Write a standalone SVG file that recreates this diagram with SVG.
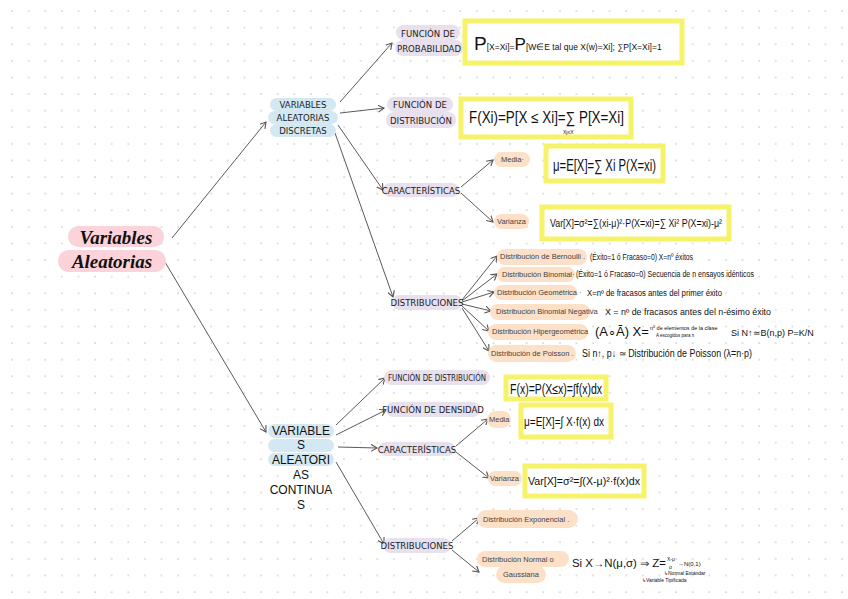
<svg xmlns="http://www.w3.org/2000/svg" width="848" height="599" viewBox="0 0 848 599">
<defs>
<pattern id="dots" x="11" y="10" width="16.6" height="16.6" patternUnits="userSpaceOnUse">
<rect x="0.4" y="0.4" width="1.4" height="1.4" fill="#c4c4c4"/>
</pattern>
<marker id="ah" markerWidth="8" markerHeight="8" refX="6" refY="4" orient="auto" markerUnits="userSpaceOnUse">
<path d="M0,0.5 L6,4 L0,7.5" fill="none" stroke="#555" stroke-width="1.1"/>
</marker>
</defs>
<style>
.conn path{fill:none;stroke:#5a5a5a;stroke-width:1;marker-end:url(#ah)}
.pink{fill:#fcd3da}
.blue{fill:#d3e8f2}
.purp{fill:#e9e0ee}
.orng{fill:#fde0c8}
.ybox{fill:#fff;stroke:#f6f36a;stroke-width:5}
.root{font-family:"Liberation Serif",serif;font-weight:bold;font-style:italic;font-size:19px;fill:#111;text-anchor:middle}
.cap{font-family:"DejaVu Sans Condensed","DejaVu Sans",sans-serif;font-size:9.5px;fill:#222;text-anchor:middle}
.cont{font-family:"Liberation Sans",Arial,sans-serif;font-size:12px;fill:#111;text-anchor:middle}
.small{font-family:"Liberation Sans",Arial,sans-serif;font-size:7.5px;fill:#444}
.fm{font-family:"Liberation Sans",Arial,sans-serif;fill:#111}
</style>
<rect width="848" height="599" fill="#fff"/>
<rect width="848" height="599" fill="url(#dots)"/>

<g class="conn" id="connectors">
<path d="M172,238 L266,122"/>
<path d="M165,262 L266,432"/>
<path d="M340,102 L392,43"/>
<path d="M340,113 L384,108"/>
<path d="M338,125 L383,190"/>
<path d="M335,133 L393,297"/>
<path d="M461,187 L493,160"/>
<path d="M461,193 L493,222"/>
<path d="M462,300 L497,256"/>
<path d="M462,301 L497,274"/>
<path d="M462,302 L494,292"/>
<path d="M462,304 L491,311"/>
<path d="M462,306 L489,331"/>
<path d="M462,308 L489,351"/>
<path d="M336,425 L385,378"/>
<path d="M336,435 L386,410"/>
<path d="M338,447 L377,448"/>
<path d="M336,462 L384,544"/>
<path d="M456,446 L488,419"/>
<path d="M456,452 L489,478"/>
<path d="M452,541 L479,518"/>
<path d="M452,550 L479,572"/>
</g>

<g id="root">
<rect class="pink" x="68" y="226" width="96" height="21" rx="10.5"/>
<rect class="pink" x="58" y="250" width="108" height="22" rx="11"/>
<text class="root" x="116" y="244">Variables</text>
<text class="root" x="112" y="268">Aleatorias</text>
</g>

<g id="discretas">
<rect class="blue" x="270" y="98" width="66" height="13" rx="6.5"/>
<rect class="blue" x="268" y="111" width="70" height="13" rx="6.5"/>
<rect class="blue" x="270" y="124" width="66" height="13" rx="6.5"/>
<text class="cap" x="303" y="108">VARIABLES</text>
<text class="cap" x="303" y="121">ALEATORIAS</text>
<text class="cap" x="303" y="134">DISCRETAS</text>
</g>

<g id="fprob">
<rect class="purp" x="396" y="25" width="64" height="15" rx="7.5"/>
<rect class="purp" x="395" y="40" width="68" height="16" rx="8"/>
<text class="cap" x="428" y="37">FUNCIÓN DE</text>
<text class="cap" x="429" y="52">PROBABILIDAD</text>
<rect class="ybox" x="465" y="21" width="217" height="42"/>
<text class="fm" x="474" y="50"><tspan font-size="19">P</tspan><tspan font-size="8.5">[X=Xi]=</tspan><tspan font-size="17">P</tspan><tspan font-size="8.5">[W∈E tal que X(w)=Xi]; ∑P[X=Xi]=1</tspan></text>
</g>

<g id="fdist">
<rect class="purp" x="387" y="97" width="66" height="15" rx="7.5"/>
<rect class="purp" x="386" y="112" width="70" height="16" rx="8"/>
<text class="cap" x="420" y="108">FUNCIÓN DE</text>
<text class="cap" x="421" y="124">DISTRIBUCIÓN</text>
<rect class="ybox" x="461" y="99" width="170" height="38"/>
<text class="fm" x="469" y="123" font-size="16" textLength="155" lengthAdjust="spacingAndGlyphs">F(Xi)=P[X ≤ Xi]=∑ P[X=Xi]</text>
<text class="fm" x="563" y="134" font-size="5">Xj≤X</text>
</g>

<g id="caract-d">
<rect class="purp" x="383" y="183" width="76" height="14" rx="7"/>
<text class="cap" x="421" y="194" font-size="8.5">CARACTERÍSTICAS</text>
</g>
<g id="media-d">
<rect class="orng" x="494" y="152" width="36" height="15" rx="7.5"/>
<text class="small" x="501" y="162">Media·</text>
<rect class="ybox" x="546" y="146" width="117" height="35"/>
<text class="fm" x="553" y="171" font-size="16" textLength="103" lengthAdjust="spacingAndGlyphs">μ=E[X]=∑ Xi P(X=xi)</text>
</g>
<g id="var-d">
<rect class="orng" x="494" y="214" width="35" height="15" rx="7.5"/>
<text class="small" x="497" y="224" font-size="7">Varianza</text>
<rect class="ybox" x="542" y="207" width="187" height="32"/>
<text class="fm" x="550" y="227" font-size="11" textLength="172" lengthAdjust="spacingAndGlyphs">Var[X]=σ²=∑(xi-μ)²·P(X=xi)=∑ Xi² P(X=xi)-μ²</text>
</g>

<g id="distrib-d">
<rect class="purp" x="392" y="295" width="70" height="15" rx="7.5"/>
<text class="cap" x="427" y="306" font-size="8.5">DISTRIBUCIONES</text>
</g>
<g id="bernoulli">
<rect class="orng" x="497" y="249" width="90" height="16" rx="8"/>
<text class="small" x="500" y="259">Distribución de Bernoulli  .</text>
<text class="fm" x="590" y="260" font-size="9" textLength="103" lengthAdjust="spacingAndGlyphs">(Éxito=1 ó Fracaso=0) X=nº éxitos</text>
</g>
<g id="binomial">
<rect class="orng" x="497" y="267" width="78" height="15" rx="7.5"/>
<text class="small" x="502" y="277">Distribución Binomial·</text>
<text class="fm" x="576" y="277" font-size="8.5" textLength="178" lengthAdjust="spacingAndGlyphs">(Éxito=1 ó Fracaso=0) Secuencia de n ensayos idénticos</text>
</g>
<g id="geometrica">
<rect class="orng" x="494" y="285" width="83" height="15" rx="7.5"/>
<text class="small" x="497" y="295">Distribución Geométrica  ·</text>
<text class="fm" x="587" y="296" font-size="8.5" textLength="135" lengthAdjust="spacingAndGlyphs">X=nº de fracasos antes del primer éxito</text>
</g>
<g id="binneg">
<rect class="orng" x="490" y="304" width="100" height="16" rx="8"/>
<text class="small" x="496" y="314">Distribución Binomial Negativa</text>
<text class="fm" x="605" y="315" font-size="8.5" textLength="166" lengthAdjust="spacingAndGlyphs">X = nº de fracasos antes del n-ésimo éxito</text>
</g>
<g id="hiper">
<rect class="orng" x="488" y="324" width="100" height="16" rx="8"/>
<text class="small" x="492" y="334">Distribución Hipergeométrica</text>
<text class="fm" x="595" y="336" font-size="13">(A∘Ā) X=</text>
<text class="fm" x="650" y="330" font-size="5.5">nº de elementos de la clase</text>
<text class="fm" x="656" y="337" font-size="4.5">A escogidos para n</text>
<text class="fm" x="731" y="336" font-size="9">Si N↑≃B(n,p)   P=K/N</text>
</g>
<g id="poisson">
<rect class="orng" x="488" y="345" width="88" height="17" rx="8.5"/>
<text class="small" x="491" y="356">Distribución de Poisson .</text>
<text class="fm" x="582" y="357" font-size="10" textLength="170" lengthAdjust="spacingAndGlyphs">Si n↑, p↓ ≃ Distribución de Poisson (λ=n·p)</text>
</g>

<g id="continuas">
<rect class="blue" x="268" y="424" width="66" height="14" rx="7"/>
<rect class="blue" x="268" y="439" width="66" height="13" rx="6.5"/>
<rect class="blue" x="268" y="453" width="66" height="13" rx="6.5"/>
<text class="cont" x="301" y="435">VARIABLE</text>
<text class="cont" x="301" y="449">S</text>
<text class="cont" x="301" y="464">ALEATORI</text>
<text class="cont" x="301" y="479">AS</text>
<text class="cont" x="301" y="494">CONTINUA</text>
<text class="cont" x="301" y="509">S</text>
</g>

<g id="fdist-c">
<rect class="purp" x="384" y="370" width="106" height="15" rx="7.5"/>
<text class="cap" x="437" y="381" font-size="8" textLength="98" lengthAdjust="spacingAndGlyphs">FUNCIÓN DE DISTRIBUCIÓN</text>
<rect class="ybox" x="506" y="377" width="100" height="22"/>
<text class="fm" x="510" y="394" font-size="14" textLength="92" lengthAdjust="spacingAndGlyphs">F(x)=P(X≤x)=∫f(x)dx</text>
</g>
<g id="fdens-c">
<rect class="purp" x="386" y="402" width="94" height="15" rx="7.5"/>
<text class="cap" x="433" y="413" font-size="8">FUNCIÓN DE DENSIDAD</text>
</g>
<g id="caract-c">
<rect class="purp" x="379" y="442" width="76" height="14" rx="7"/>
<text class="cap" x="417" y="453" font-size="8.5">CARACTERÍSTICAS</text>
</g>
<g id="media-c">
<rect class="orng" x="487" y="411" width="24" height="17" rx="8.5"/>
<text class="small" x="489" y="422">Media</text>
<rect class="ybox" x="521" y="405" width="90" height="32"/>
<text class="fm" x="524" y="426" font-size="13" textLength="80" lengthAdjust="spacingAndGlyphs">μ=E[X]=∫ X·f(x) dx</text>
</g>
<g id="var-c">
<rect class="orng" x="488" y="471" width="34" height="15" rx="7.5"/>
<text class="small" x="490" y="481" font-size="7">Varianza</text>
<rect class="ybox" x="525" y="466" width="119" height="30"/>
<text class="fm" x="528" y="485" font-size="11" textLength="112" lengthAdjust="spacingAndGlyphs">Var[X]=σ²=∫(X-μ)²·f(x)dx</text>
</g>

<g id="distrib-c">
<rect class="purp" x="383" y="538" width="68" height="15" rx="7.5"/>
<text class="cap" x="417" y="549" font-size="8.5">DISTRIBUCIONES</text>
</g>
<g id="exponencial">
<rect class="orng" x="477" y="510" width="101" height="18" rx="9"/>
<text class="small" x="483" y="522">Distribución Exponencial .</text>
</g>
<g id="normal">
<rect class="orng" x="477" y="551" width="92" height="16" rx="8"/>
<rect class="orng" x="496" y="566" width="50" height="17" rx="8.5"/>
<text class="small" x="482" y="562" font-size="8">Distribución Normal o</text>
<text class="small" x="503" y="577" font-size="8">Gaussiana</text>
<text class="fm" x="572" y="567" font-size="10" textLength="94" lengthAdjust="spacingAndGlyphs">Si X→N(μ,σ) ⇒ Z=</text>
<text class="fm" x="667" y="561" font-size="5">X-μ</text>
<text class="fm" x="669" y="569" font-size="5">σ</text>
<text class="fm" x="678" y="566" font-size="6">→N(0,1)</text>
<text class="fm" x="664" y="575" font-size="5">↳Normal Estándar</text>
<text class="fm" x="642" y="582" font-size="5">↳Variable Tipificada</text>
</g>
</svg>
